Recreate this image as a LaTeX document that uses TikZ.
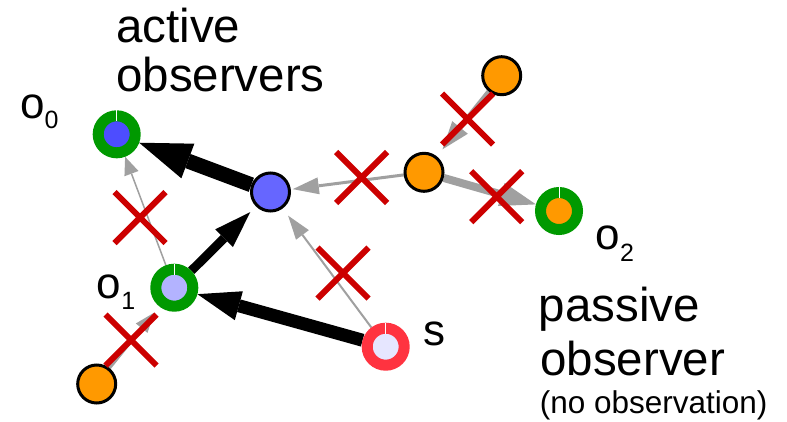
\documentclass[tikz,border=0pt]{standalone}
\usepackage{fontspec}
\setmainfont{Liberation Sans}
\usetikzlibrary{arrows.meta,shapes.misc}

\definecolor{ringgreen}{RGB}{0,153,0}
\definecolor{deepblue}{RGB}{77,77,255}
\definecolor{midblue}{RGB}{102,102,255}
\definecolor{lavender}{RGB}{179,179,255}
\definecolor{paleblue}{RGB}{230,230,255}
\definecolor{srcred}{RGB}{255,51,64}
\definecolor{amber}{RGB}{255,153,0}
\definecolor{edgegrey}{RGB}{160,160,160}
\definecolor{xred}{RGB}{204,0,0}

\pgfdeclarelayer{paper}
\pgfdeclarelayer{edges}
\pgfsetlayers{paper,edges,main}

\begin{document}
\begin{tikzpicture}[x=1pt,y=-1pt,
  ring/.style={circle, inner sep=0pt, minimum size=37pt, line width=11pt, outer sep=5.5pt, draw=#1},
  plain/.style={circle, inner sep=0pt, minimum size=38pt, line width=3pt, outer sep=1.5pt, draw=black},
  strong/.style={draw=black, line width=#1},
  weak/.style={draw=edgegrey, line width=#1},
  xmark/.style={cross out, draw=xred, line width=6pt, minimum size=45pt, inner sep=0pt},
  tick/.style={draw=white, line width=0.8pt},
  lbl/.style={inner sep=0pt, anchor=base west, font=\fontsize{44}{44}\selectfont},
  big/.style={inner sep=0pt, anchor=base west, font=\fontsize{47.5}{47.5}\selectfont},
  small/.style={inner sep=0pt, anchor=base west, font=\fontsize{31.5}{31.5}\selectfont},
]
\useasboundingbox (0,0) rectangle (787,421);
\begin{pgfonlayer}{paper}
\fill[white] (0,0) rectangle (787,421);
\end{pgfonlayer}

% vertices
\node[ring=ringgreen, fill=deepblue] (o0) at (116.7,134.3) {};
\node[ring=ringgreen, fill=lavender] (o1) at (174.3,287.7) {};
\node[ring=ringgreen, fill=amber] (o2) at (559,211) {};
\node[ring=srcred, fill=paleblue] (s) at (385.7,346.7) {};
\node[plain, fill=midblue] (c) at (270.5,192) {};
\node[plain, fill=amber] (m) at (424,172.3) {};
\node[plain, fill=amber] (t) at (501.7,75.7) {};
\node[plain, fill=amber] (bl) at (96.7,384) {};

% small gaps at the top of the rings
\foreach \n in {o0,o1,o2,s}
  \draw[tick] (\n.north) -- ++(0,11);

% edges, kept underneath the vertices
\begin{pgfonlayer}{edges}
\draw[strong=15pt, -{Triangle[length=52pt,width=37pt,line width=0pt]}] (c) -- (o0);
\draw[strong=9pt, -{Triangle[length=37pt,width=25pt,line width=0pt]}, shorten >=8pt] (o1) -- (c);
\draw[strong=13pt, -{Triangle[length=43pt,width=30pt,line width=0pt]}] (s) -- (o1);
\draw[weak=1.5pt, -{Triangle[length=18pt,width=15pt,line width=0pt]}] (o1) -- (o0);
\draw[weak=2pt, -{Triangle[length=24pt,width=16pt,line width=0pt]}, shorten >=9pt] (s) -- (c);
\draw[weak=3pt, -{Triangle[length=26pt,width=17pt,line width=0pt]}, shorten >=2pt] (m) -- (c);
\draw[weak=5pt, -{Triangle[length=28pt,width=20pt,line width=0pt]}, shorten >=9pt] (t) -- (m);
\draw[weak=8pt, -{Triangle[length=36pt,width=24pt,line width=0pt]}] (m) -- (o2);
\draw[weak=3pt, -{Triangle[length=20pt,width=15pt,line width=0pt]}, shorten >=8pt] (bl) -- (o1);
\end{pgfonlayer}

% blocked observations
\node[xmark] (x1) at (140,217.5) {};
\node[xmark] (x2) at (343,273) {};
\node[xmark] (x3) at (361.7,177.5) {};
\node[xmark] (x4) at (467.5,119) {};
\node[xmark] (x5) at (496.7,196.7) {};
\node[xmark] (x6) at (131,340) {};

% labels
\node[lbl] (l0) at (20,118) {o\raisebox{-10pt}{\fontsize{25}{25}\selectfont 0}};
\node[lbl] (l1) at (96.7,298) {o\raisebox{-11pt}{\fontsize{25}{25}\selectfont 1}};
\node[lbl] (l2) at (595.4,249) {o\raisebox{-12.5pt}{\fontsize{25}{25}\selectfont 2}};
\node[lbl] (ls) at (423.7,345) {s};

\node[big] (act1) at (116,42) {active};
\node[big] (act2) at (116,91) {observers};
\node[big] (pas1) at (538.7,321.7) {passive};
\node[big] (pas2) at (540,375) {observer};
\node[small] (pas3) at (539.7,413) {(no observation)};
\end{tikzpicture}
\end{document}
